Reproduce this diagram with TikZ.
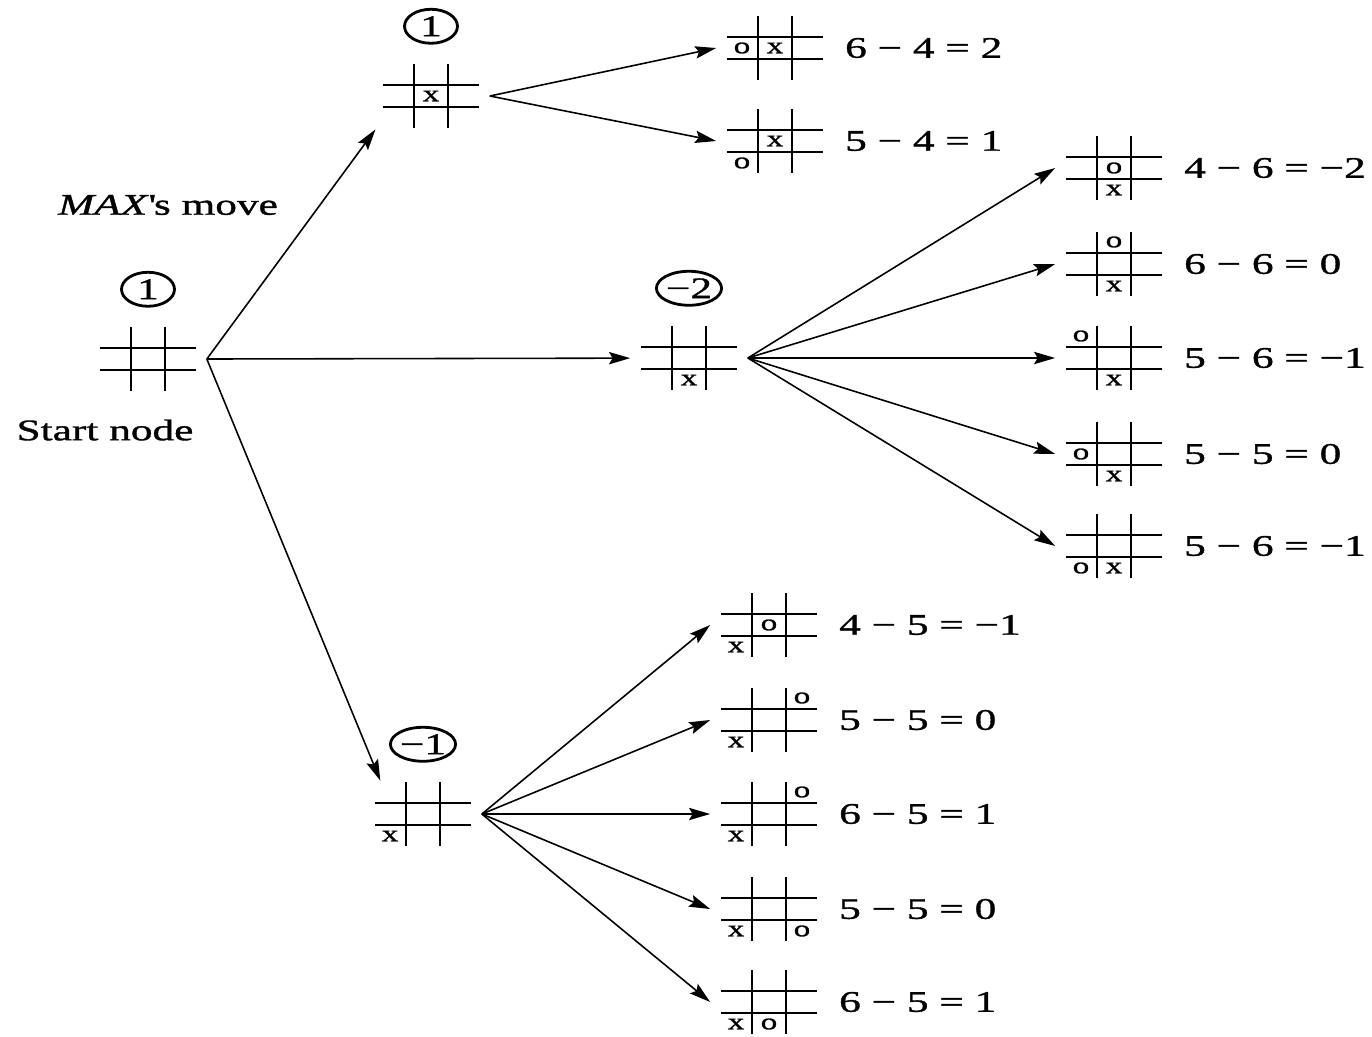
\documentclass[tikz,border=0pt]{standalone}
\usepackage{fontspec}
\setmainfont{Liberation Serif}[FakeStretch=1.45, FakeBold=1.2]
\usetikzlibrary{arrows.meta, positioning, shapes.geometric}

% one tic-tac-toe position: the grid is drawn inside the node
\tikzset{
	gridline/.style={line width=1.5pt},
	board/.style={minimum width=2.34cm, minimum height=1.32cm, inner sep=0pt,
		path picture={
			\draw[gridline] (path picture bounding box.center) ++(-48,-11) -- ++(96,0);
			\draw[gridline] (path picture bounding box.center) ++(-48,11) -- ++(96,0);
			\draw[gridline] (path picture bounding box.center) ++(-17,-32) -- ++(0,64);
			\draw[gridline] (path picture bounding box.center) ++(17,-32) -- ++(0,64);
		}},
	evalnode/.style={ellipse, draw, line width=1.6pt, minimum width=1.06cm,
		minimum height=0.68cm, inner sep=0pt},
	cellmark/.style={font=\fontsize{13}{13}\selectfont, inner sep=0pt},
	branch/.style={-{Stealth[length=12pt, width=7pt, inset=2pt]}, line width=0.9pt},
}
% x or o in a cell, offset from the board centre
\newcommand{\putmark}[4]{\path (#1) ++(#2,#3) node[cellmark] {#4};}

\begin{document}
\begin{tikzpicture}[x=0.02cm, y=-0.02cm, font=\fontsize{17}{20}\selectfont]
	\useasboundingbox (0,0) rectangle (1372,1036);

	% first level
	\node[board] (start) at (148,359) {};
	\node[evalnode, above=0.36cm of start] (vstart) {1};
	\node at (168,205) (maxlbl) {\textit{MAX}\textquotesingle s move};
	\node at (105,430) (startlbl) {Start node};

	\node[board] (top) at (431,96) {};
	\node[evalnode, above=0.36cm of top] (vtop) {1};
	\putmark{top}{0}{0}{x}

	\node[board] (mid) at (689,358) {};
	\node[evalnode, above=0.36cm of mid] (vmid) {−2};
	\putmark{mid}{0}{22}{x}

	\node[board] (bottom) at (423,814) {};
	\node[evalnode, above=0.36cm of bottom] (vbottom) {−1};
	\putmark{bottom}{-33}{22}{x}

	% replies to the centre move
	\node[board] (t1) at (775,48) {};
	\node[right=0.22cm of t1, inner sep=0pt] (e-t1) {6 − 4 = 2};
	\putmark{t1}{-33}{0}{o} \putmark{t1}{0}{0}{x}
	\node[board] (t2) at (775,141) {};
	\node[right=0.22cm of t2, inner sep=0pt] (e-t2) {5 − 4 = 1};
	\putmark{t2}{-33}{22}{o} \putmark{t2}{0}{0}{x}

	% replies to the bottom-middle move
	\node[board] (m1) at (1114,168) {};
	\node[right=0.22cm of m1, inner sep=0pt] (e-m1) {4 − 6 = −2};
	\putmark{m1}{0}{0}{o} \putmark{m1}{0}{22}{x}
	\node[board] (m2) at (1114,264) {};
	\node[right=0.22cm of m2, inner sep=0pt] (e-m2) {6 − 6 = 0};
	\putmark{m2}{0}{-22}{o} \putmark{m2}{0}{22}{x}
	\node[board] (m3) at (1114,358) {};
	\node[right=0.22cm of m3, inner sep=0pt] (e-m3) {5 − 6 = −1};
	\putmark{m3}{-33}{-22}{o} \putmark{m3}{0}{22}{x}
	\node[board] (m4) at (1114,454) {};
	\node[right=0.22cm of m4, inner sep=0pt] (e-m4) {5 − 5 = 0};
	\putmark{m4}{-33}{0}{o} \putmark{m4}{0}{22}{x}
	\node[board] (m5) at (1114,546) {};
	\node[right=0.22cm of m5, inner sep=0pt] (e-m5) {5 − 6 = −1};
	\putmark{m5}{-33}{22}{o} \putmark{m5}{0}{22}{x}

	% replies to the corner move
	\node[board] (b1) at (769,625) {};
	\node[right=0.22cm of b1, inner sep=0pt] (e-b1) {4 − 5 = −1};
	\putmark{b1}{0}{0}{o} \putmark{b1}{-33}{22}{x}
	\node[board] (b2) at (769,720) {};
	\node[right=0.22cm of b2, inner sep=0pt] (e-b2) {5 − 5 = 0};
	\putmark{b2}{33}{-22}{o} \putmark{b2}{-33}{22}{x}
	\node[board] (b3) at (769,814) {};
	\node[right=0.22cm of b3, inner sep=0pt] (e-b3) {6 − 5 = 1};
	\putmark{b3}{33}{-22}{o} \putmark{b3}{-33}{22}{x}
	\node[board] (b4) at (769,909) {};
	\node[right=0.22cm of b4, inner sep=0pt] (e-b4) {5 − 5 = 0};
	\putmark{b4}{33}{22}{o} \putmark{b4}{-33}{22}{x}
	\node[board] (b5) at (769,1002) {};
	\node[right=0.22cm of b5, inner sep=0pt] (e-b5) {6 − 5 = 1};
	\putmark{b5}{0}{22}{o} \putmark{b5}{-33}{22}{x}

	% moves
	\draw[branch] (start.east) -- (top.-149);
	\draw[branch] (start.east) -- (mid);
	\draw[branch] (start.east) -- (bottom.142);
	\foreach \i in {1,2}
		\draw[branch] (top.east) -- (t\i.west);
	\foreach \i in {1,...,5}
		\draw[branch] (mid.east) -- (m\i.west);
	\foreach \i in {1,...,5}
		\draw[branch] (bottom.east) -- (b\i.west);
\end{tikzpicture}
\end{document}
